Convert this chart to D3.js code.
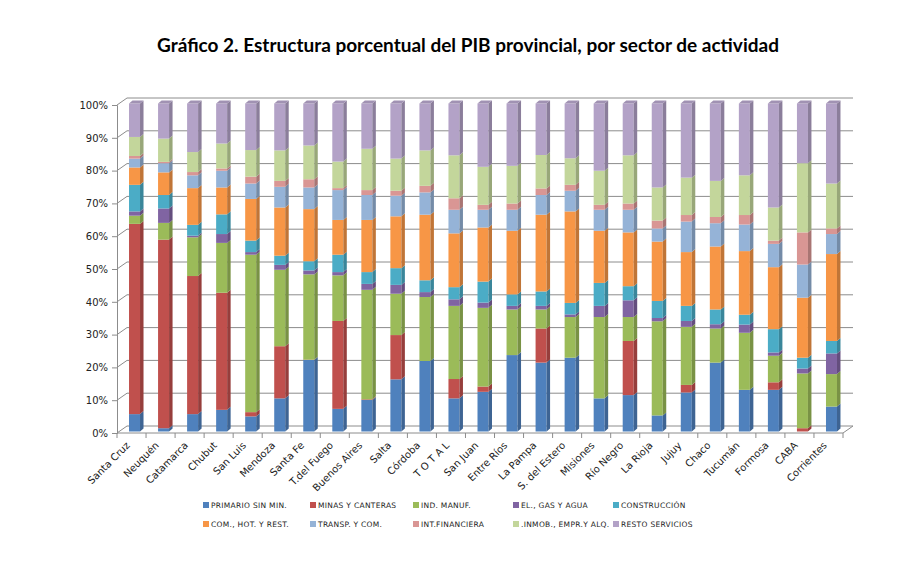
<!DOCTYPE html>
<html>
<head>
<meta charset="utf-8">
<script src="https://cdn.jsdelivr.net/npm/d3@7"></script>
<style>
  body { margin: 0; background: #fff; }
  text { font-family: "DejaVu Sans", Verdana, sans-serif; }
</style>
</head>
<body>
<div id="chart"></div>
<script>
let w = 916,
    h = 574

// provincias
let provincias = ['Santa Cruz', 'Neuquén', 'Catamarca', 'Chubut', 'San Luis', 'Mendoza', 'Santa Fe',
    'T.del Fuego', 'Buenos Aires', 'Salta', 'Córdoba', 'T O T A L', 'San Juan', 'Entre Ríos',
    'La Pampa', 'S. del Estero', 'Misiones', 'Río Negro', 'La Rioja', 'Jujuy', 'Chaco', 'Tucumán',
    'Formosa', 'CABA', 'Corrientes']

let sectores = ['PRIMARIO SIN MIN.', 'MINAS Y CANTERAS', 'IND. MANUF.', 'EL., GAS Y AGUA', 'CONSTRUCCIÓN',
    'COM., HOT. Y REST.', 'TRANSP. Y COM.', 'INT.FINANCIERA', '.INMOB., EMPR.Y ALQ.', 'RESTO SERVICIOS']

let colores = ['#4f81bd', '#c0504d', '#9bbb59', '#8064a2', '#4bacc6',
    '#f79646', '#95b3d7', '#d99694', '#c3d69b', '#b3a2c7']

//#region data (% del PIB provincial)
let primario = [5.3, 1.0, 5.3, 6.6, 4.6, 10.1, 21.8, 6.9, 9.6, 15.9, 21.5, 10.1, 12.1, 23.3, 21.0, 22.5, 10.1, 11.1, 4.9, 11.9, 21.0, 12.7, 12.7, 0.0, 7.6]
let minas = [58.0, 57.5, 42.1, 35.7, 1.3, 15.9, 0.1, 26.8, 0.2, 13.5, 0.0, 5.9, 1.6, 0.0, 10.4, 0.0, 0.0, 16.5, 0.0, 2.3, 0.0, 0.0, 2.3, 1.0, 0.0]
let industria = [2.5, 5.1, 11.8, 15.2, 48.0, 23.3, 26.0, 13.9, 33.4, 12.6, 19.5, 22.3, 24.0, 13.9, 5.8, 12.4, 24.8, 7.3, 28.7, 17.7, 10.4, 17.4, 8.1, 16.7, 9.9]
let electricidad = [1.3, 4.4, 0.5, 2.7, 0.8, 1.5, 1.2, 1.0, 1.8, 2.7, 1.5, 2.0, 1.6, 1.1, 1.1, 0.8, 3.4, 5.1, 1.0, 1.8, 1.3, 2.5, 1.0, 1.5, 6.3]
let construccion = [8.1, 4.1, 3.3, 6.0, 3.5, 2.8, 2.8, 5.3, 3.6, 5.1, 3.6, 3.7, 6.4, 3.5, 4.4, 3.5, 7.0, 4.3, 5.2, 4.6, 4.5, 3.0, 7.1, 3.3, 3.8]
let comercio = [5.3, 6.9, 11.2, 8.2, 12.7, 14.7, 15.9, 10.6, 15.9, 15.8, 20.0, 16.4, 16.5, 19.4, 23.4, 27.9, 15.9, 16.4, 18.1, 16.4, 19.2, 19.4, 18.9, 18.3, 26.5]
let transporte = [2.7, 2.8, 3.9, 5.1, 4.7, 6.3, 6.6, 9.1, 7.6, 6.3, 6.8, 7.2, 5.4, 6.4, 6.0, 6.3, 6.4, 6.9, 4.0, 9.3, 7.1, 8.1, 7.1, 10.1, 6.1]
let financiera = [0.8, 0.4, 1.0, 0.7, 2.1, 1.8, 2.5, 0.6, 1.5, 1.5, 2.0, 3.5, 1.5, 1.9, 2.0, 1.8, 1.5, 1.9, 2.4, 2.0, 1.9, 2.9, 1.0, 9.8, 1.7]
let inmobiliaria = [5.8, 7.1, 6.1, 7.6, 8.1, 9.3, 10.3, 8.1, 12.6, 9.8, 10.8, 13.1, 11.6, 11.5, 10.2, 8.1, 10.4, 14.7, 10.1, 11.4, 11.0, 12.1, 10.1, 21.1, 13.7]
let resto = [10.2, 10.7, 14.8, 12.2, 14.2, 14.3, 12.8, 17.7, 13.8, 16.8, 14.3, 15.8, 19.3, 19.0, 15.7, 16.7, 20.5, 15.8, 25.6, 22.6, 23.6, 21.9, 31.7, 18.2, 24.4]
//#endregion

let yTicks = [0, 10, 20, 30, 40, 50, 60, 70, 80, 90, 100]

let series = [primario, minas, industria, electricidad, construccion, comercio, transporte, financiera, inmobiliaria, resto]
let rows = provincias.map((p, i) => {
    let r = { provincia: p }
    sectores.forEach((s, j) => r[s] = series[j][i])
    return r
})
let stacked = d3.stack().keys(sectores)(rows)

// 3d offsets of back wall
let dx = 10,
    dy = -7

let svg = d3.select('#chart')
    .append('svg')
    .attr('width', w)
    .attr('height', h)

svg.append('text')
    .text('Gráfico 2. Estructura porcentual del PIB provincial, por sector de actividad')
    .attr('x', 468)
    .attr('y', 52)
    .attr('text-anchor', 'middle')
    .style('font-family', 'Lato, "Open Sans", sans-serif')
    .attr('font-weight', 'bold')
    .attr('font-size', 19)
    .attr('fill', '#000')

let xScale = d3.scaleBand()
    .domain(provincias)
    .range([117, 843])

let yScale = d3.scaleLinear()
    .domain([0, 100])
    .range([433, 105])

let gridColor = '#8c8c8c'

// back wall gridlines
let grid = svg.append('g')
grid.selectAll('line.back')
    .data(yTicks)
    .enter()
    .append('line')
    .attr('x1', 117 + dx)
    .attr('x2', 843 + dx)
    .attr('y1', d => yScale(d) + dy)
    .attr('y2', d => yScale(d) + dy)
    .attr('stroke', gridColor)
grid.selectAll('line.side')
    .data(yTicks)
    .enter()
    .append('line')
    .attr('x1', 117)
    .attr('x2', 117 + dx)
    .attr('y1', d => yScale(d))
    .attr('y2', d => yScale(d) + dy)
    .attr('stroke', gridColor)
// floor
grid.append('line')
    .attr('x1', 843).attr('y1', yScale(0))
    .attr('x2', 843 + dx).attr('y2', yScale(0) + dy)
    .attr('stroke', gridColor)

let yAxis = d3.axisLeft(yScale)
    .tickValues(yTicks)
    .tickFormat(d => d + '%')
    .tickSize(5)
    .tickPadding(4)

let yG = svg.append('g')
    .attr('transform', 'translate(117,0)')
    .call(yAxis)
yG.select('.domain').attr('stroke', gridColor)
yG.selectAll('.tick line').attr('stroke', gridColor)
yG.selectAll('.tick text')
    .attr('font-size', 10)
    .attr('fill', '#222')

// bars
let bw = 11,
    sw = 3.5,
    sh = 3
let barX = d => xScale(d.data.provincia) + xScale.bandwidth() / 2 - 2.5
let barY = v => yScale(v) - 1.5

let layers = svg.append('g')
    .selectAll('g')
    .data(stacked)
    .enter()
    .append('g')

layers.each(function (s, k) {
    let base = d3.color(colores[k])
    let g = d3.select(this)
    let segs = s.filter(d => d[1] - d[0] > 0)
    g.selectAll('rect')
        .data(segs)
        .enter()
        .append('rect')
        .attr('x', barX)
        .attr('y', d => barY(d[1]))
        .attr('width', bw)
        .attr('height', d => barY(d[0]) - barY(d[1]))
        .attr('fill', base.formatHex())
    g.selectAll('path.side')
        .data(segs)
        .enter()
        .append('path')
        .attr('d', d => {
            let x0 = barX(d) + bw,
                yt = barY(d[1]),
                yb = barY(d[0])
            return `M${x0},${yt}L${x0 + sw},${yt - sh}L${x0 + sw},${yb - sh}L${x0},${yb}Z`
        })
        .attr('fill', base.darker(0.7).formatHex())
    if (k === stacked.length - 1) {
        g.selectAll('path.top')
            .data(segs)
            .enter()
            .append('path')
            .attr('d', d => {
                let x0 = barX(d),
                    yt = barY(d[1])
                return `M${x0},${yt}L${x0 + bw},${yt}L${x0 + bw + sw},${yt - sh}L${x0 + sw},${yt - sh}Z`
            })
            .attr('fill', base.darker(0.3).formatHex())
    }
})

// category axis (front floor edge)
let xG = svg.append('g')
xG.append('line')
    .attr('x1', 117).attr('x2', 843)
    .attr('y1', yScale(0)).attr('y2', yScale(0))
    .attr('stroke', gridColor)
xG.selectAll('line.tick')
    .data(provincias.concat(['end']))
    .enter()
    .append('line')
    .attr('x1', d => d === 'end' ? 843 : xScale(d))
    .attr('x2', d => d === 'end' ? 843 : xScale(d))
    .attr('y1', yScale(0))
    .attr('y2', yScale(0) + 5)
    .attr('stroke', gridColor)
xG.selectAll('text')
    .data(provincias)
    .enter()
    .append('text')
    .text(d => d)
    .attr('text-anchor', 'end')
    .attr('font-size', 10)
    .attr('fill', '#222')
    .attr('transform', d => `translate(${xScale(d) + xScale.bandwidth() / 2 - 1},446) rotate(-45)`)

// legend
let legX = [203, 310, 413, 513, 613],
    legY = [505, 524]
let legend = svg.append('g')
    .selectAll('g')
    .data(sectores)
    .enter()
    .append('g')
    .attr('transform', (d, i) => `translate(${legX[i % 5]},${legY[Math.floor(i / 5)]})`)
legend.append('rect')
    .attr('x', 0)
    .attr('y', -3)
    .attr('width', 6)
    .attr('height', 6)
    .attr('fill', (d, i) => colores[i])
legend.append('text')
    .text(d => d)
    .attr('x', 8)
    .attr('y', 3)
    .attr('font-size', 7.5)
    .attr('letter-spacing', 0.3)
    .attr('fill', '#222')
</script>
</body>
</html>
